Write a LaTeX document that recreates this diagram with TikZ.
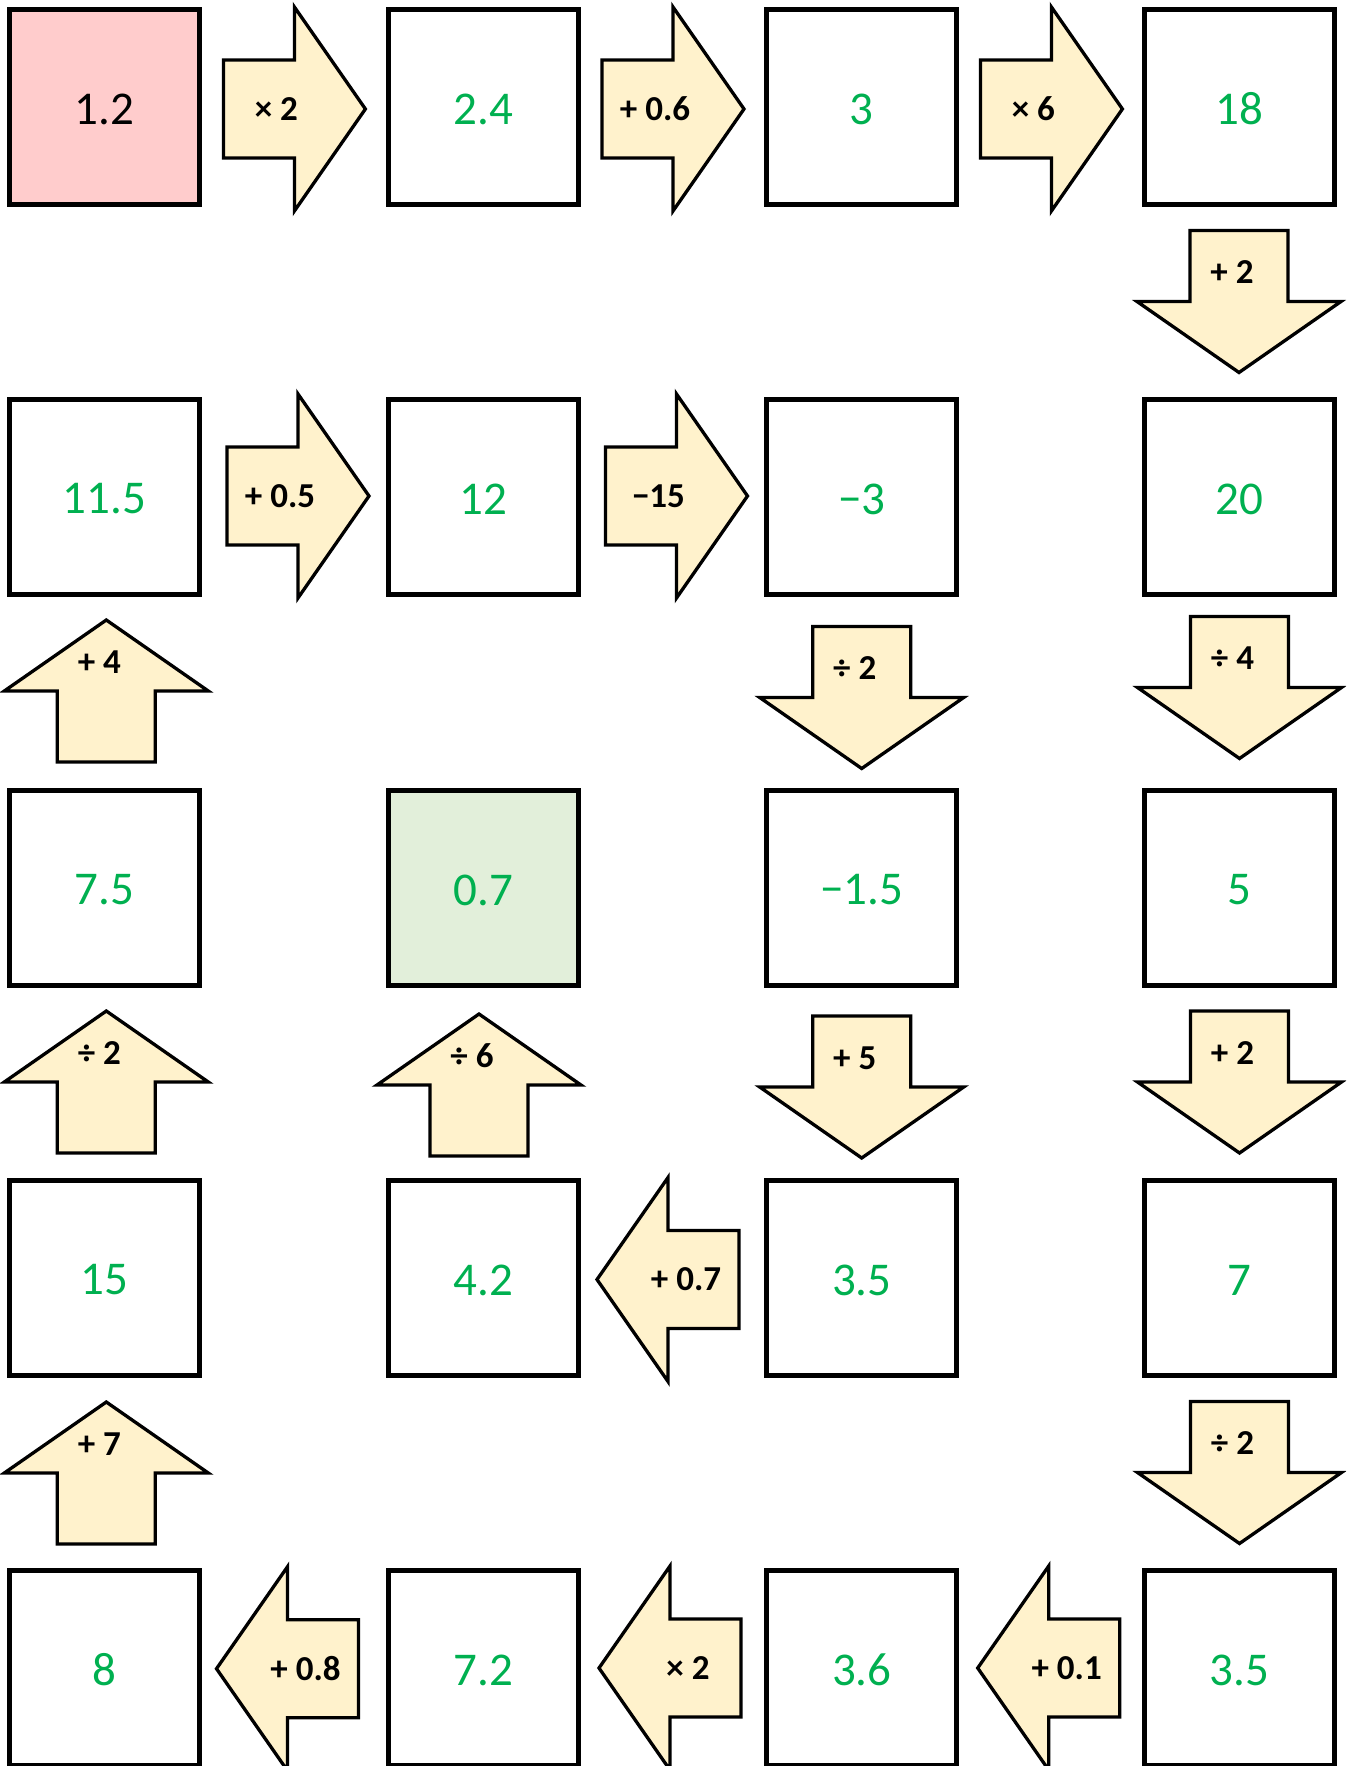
\documentclass[tikz,border=0pt]{standalone}
\usepackage{fontspec}
\setmainfont{Carlito}
\definecolor{pinkfill}{HTML}{FFCCCC}
\definecolor{greenfill}{HTML}{E2EFDA}
\definecolor{arrowfill}{HTML}{FFF2CC}
\definecolor{numgreen}{HTML}{00B050}
\tikzset{
  numbox/.style={draw=black, line width=5pt, line join=miter, minimum width=189.7pt, minimum height=195pt,
    inner sep=0pt, outer sep=0pt},
  numtext/.style={inner sep=0pt, text=numgreen, font=\fontsize{47}{56}\selectfont},
  blockarrow/.style={draw=black, line width=3.3pt, line join=miter, fill=arrowfill},
  oplabel/.style={inner sep=0pt, text=black, font=\bfseries\fontsize{35}{40}\selectfont}
}
\newcommand{\arrR}[4]{%
  \draw[blockarrow] ({#2-71},{#3-49}) -- ({#2},{#3-49}) -- ({#2},{#3-102}) -- ({#2+71},{#3})
    -- ({#2},{#3+102}) -- ({#2},{#3+49}) -- ({#2-71},{#3+49}) -- cycle;
  \node[oplabel] (#1) at ({#2-18},{#3}) {#4};}
\newcommand{\arrL}[4]{%
  \draw[blockarrow] ({#2+71},{#3-49}) -- ({#2},{#3-49}) -- ({#2},{#3-102}) -- ({#2-71},{#3})
    -- ({#2},{#3+102}) -- ({#2},{#3+49}) -- ({#2+71},{#3+49}) -- cycle;
  \node[oplabel] (#1) at ({#2+18},{#3}) {#4};}
\newcommand{\arrD}[4]{%
  \draw[blockarrow] ({#2-49},{#3-71}) -- ({#2-49},{#3}) -- ({#2-102},{#3}) -- ({#2},{#3+71})
    -- ({#2+102},{#3}) -- ({#2+49},{#3}) -- ({#2+49},{#3-71}) -- cycle;
  \node[oplabel] (#1) at ({#2-7},{#3-29}) {#4};}
\newcommand{\arrU}[4]{%
  \draw[blockarrow] ({#2-49},{#3+71}) -- ({#2-49},{#3}) -- ({#2-102},{#3}) -- ({#2},{#3-71})
    -- ({#2+102},{#3}) -- ({#2+49},{#3}) -- ({#2+49},{#3+71}) -- cycle;
  \node[oplabel] (#1) at ({#2-7},{#3-29}) {#4};}
\begin{document}
\begin{tikzpicture}[x=1pt,y=-1pt]
\clip (0,0) rectangle (1346,1766);
% boxes: column centres 104.4, 483.4, 861.8, 1239.3 ; row centres 107, 497, 888, 1278, 1668
\node[numbox, fill=pinkfill] (b11) at (104.4,107) {};
\node[numtext, text=black] (t11) at (104.4,109) {1.2};
\node[numbox] (b12) at (483.4,107) {};   \node[numtext] (t12) at (483.4,109) {2.4};
\node[numbox] (b13) at (861.8,107) {};   \node[numtext] (t13) at (861.8,109) {3};
\node[numbox] (b14) at (1239.3,107) {};  \node[numtext] (t14) at (1239.3,109) {18};

\node[numbox] (b21) at (104.4,497) {};   \node[numtext] (t21) at (104.4,499) {11.5};
\node[numbox] (b22) at (483.4,497) {};   \node[numtext] (t22) at (483.4,499) {12};
\node[numbox] (b23) at (861.8,497) {};   \node[numtext] (t23) at (861.8,499) {−3};
\node[numbox] (b24) at (1239.3,497) {};  \node[numtext] (t24) at (1239.3,499) {20};

\node[numbox] (b31) at (104.4,888) {};   \node[numtext] (t31) at (104.4,890) {7.5};
\node[numbox, fill=greenfill] (b32) at (483.4,888) {};   \node[numtext] (t32) at (483.4,890) {0.7};
\node[numbox] (b33) at (861.8,888) {};   \node[numtext] (t33) at (861.8,890) {−1.5};
\node[numbox] (b34) at (1239.3,888) {};  \node[numtext] (t34) at (1239.3,890) {5};

\node[numbox] (b41) at (104.4,1278) {};  \node[numtext] (t41) at (104.4,1280) {15};
\node[numbox] (b42) at (483.4,1278) {};  \node[numtext] (t42) at (483.4,1280) {4.2};
\node[numbox] (b43) at (861.8,1278) {};  \node[numtext] (t43) at (861.8,1280) {3.5};
\node[numbox] (b44) at (1239.3,1278) {}; \node[numtext] (t44) at (1239.3,1280) {7};

\node[numbox] (b51) at (104.4,1668) {};  \node[numtext] (t51) at (104.4,1670) {8};
\node[numbox] (b52) at (483.4,1668) {};  \node[numtext] (t52) at (483.4,1670) {7.2};
\node[numbox] (b53) at (861.8,1668) {};  \node[numtext] (t53) at (861.8,1670) {3.6};
\node[numbox] (b54) at (1239.3,1668) {}; \node[numtext] (t54) at (1239.3,1670) {3.5};

% operation arrows
\arrR{r1}{294.4}{109}{× 2}
\arrR{r2}{673}{109}{+ 0.6}
\arrR{r3}{1051.4}{109}{× 6}
\arrD{d1}{1239}{301.5}{+ 2}
\arrR{r4}{298}{496}{+ 0.5}
\arrR{r5}{676.5}{496}{−15}
\arrU{u1}{106.3}{691}{+ 4}
\arrD{d2}{861.7}{697.5}{÷ 2}
\arrD{d3}{1239.5}{687.5}{÷ 4}
\arrU{u2}{106.3}{1082}{÷ 2}
\arrU{u3}{479}{1085}{÷ 6}
\arrD{d4}{861.7}{1087}{+ 5}
\arrD{d5}{1239.5}{1082}{+ 2}
\arrL{l1}{668}{1279.5}{+ 0.7}
\arrU{u4}{106.3}{1473}{+ 7}
\arrD{d6}{1239.5}{1472.5}{÷ 2}
\arrL{l2}{287.5}{1668.7}{+ 0.8}
\arrL{l3}{670}{1668}{× 2}
\arrL{l4}{1048.7}{1668}{+ 0.1}
\end{tikzpicture}
\end{document}
